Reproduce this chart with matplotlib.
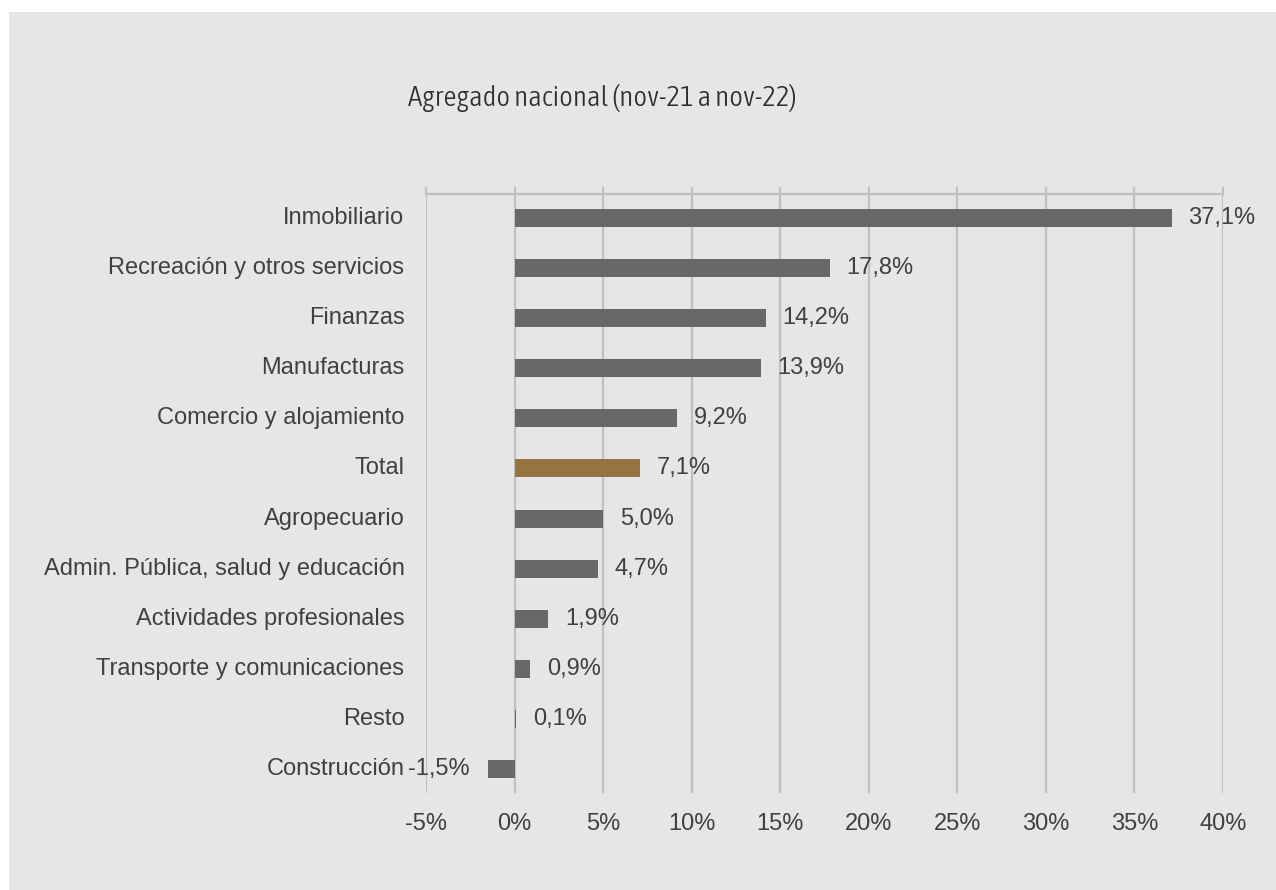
import os
import matplotlib
matplotlib.use("Agg")
import matplotlib.pyplot as plt
from matplotlib.patches import Rectangle
from matplotlib import font_manager
from matplotlib.font_manager import FontProperties

categories = ["Inmobiliario", "Recreación y otros servicios", "Finanzas", "Manufacturas",
              "Comercio y alojamiento", "Total", "Agropecuario",
              "Admin. Pública, salud y educación", "Actividades profesionales",
              "Transporte y comunicaciones", "Resto", "Construcción"]
values = [37.1, 17.8, 14.2, 13.9, 9.2, 7.1, 5.0, 4.7, 1.9, 0.9, 0.1, -1.5]
xticks = [-5, 0, 5, 10, 15, 20, 25, 30, 35, 40]
title = "Agregado nacional (nov-21 a nov-22)"

plt.rcParams["font.family"] = ["Liberation Sans", "DejaVu Sans"]


def pick_narrow_font():
    best, best_score = None, -1
    for f in font_manager.fontManager.ttflist:
        b = os.path.basename(f.fname).lower()
        if not ("narrow" in b or "condensed" in b):
            continue
        if "italic" in b or "oblique" in b or "bold" in b or "semi" in b or "extra" in b \
                or "black" in b or "thin" in b or "medium" in b:
            score = 0
        elif "light" in b:
            score = 3
        else:
            score = 2
        if "dejavu" in b:
            score -= 1
        if score > best_score:
            best, best_score = f.fname, score
    if best is None:
        return FontProperties(family="DejaVu Sans", stretch="condensed")
    return FontProperties(fname=best)


BG = "#E6E6E8"
GRID = "#C0C0C0"
BAR = "#666869"
HIGHLIGHT = "#96743F"
TXT = "#404040"
FS = 17

W, H = 1276, 890
fig = plt.figure(figsize=(W / 100, H / 100), dpi=100, facecolor="white")
fig.patches.append(Rectangle((9 / W, 0), 1 - 9 / W, 1 - 12 / H, transform=fig.transFigure,
                             facecolor=BG, edgecolor="none", zorder=-10))

ax = fig.add_axes([426 / W, (H - 793) / H, (1223 - 426) / W, (793 - 194) / H])
ax.set_facecolor("none")
ax.set_zorder(2)

ypos = list(range(len(categories)))
colors = [HIGHLIGHT if c == "Total" else BAR for c in categories]
ax.barh(ypos, values, height=0.36, color=colors, zorder=3)

ax.set_xlim(-5, 40)
ax.set_ylim(len(categories) - 1 + 0.48, -0.48)
ax.set_xticks(xticks)
ax.set_xticklabels([f"{t}%" for t in xticks], fontsize=FS, color=TXT)
ax.xaxis.grid(True, color=GRID, linewidth=1.6, zorder=1)
ax.tick_params(axis="x", bottom=False, top=True, labelbottom=True, labeltop=False,
               direction="out", length=5, width=1.6, color=GRID, pad=9.5)
ax.set_yticks([])
for s in ["left", "right", "bottom"]:
    ax.spines[s].set_visible(False)
ax.spines["top"].set_color(GRID)
ax.spines["top"].set_linewidth(1.6)

for y, c in zip(ypos, categories):
    ax.annotate(c, xy=(0, y), xycoords=("axes fraction", "data"), xytext=(-15.5, 0),
                textcoords="offset points", ha="right", va="center", fontsize=FS, color=TXT)

for y, v in zip(ypos, values):
    lab = f"{v:.1f}".replace(".", ",") + "%"
    if v >= 0:
        ax.annotate(lab, xy=(v, y), xytext=(12, 0), textcoords="offset points",
                    ha="left", va="center", fontsize=FS, color=TXT)
    else:
        ax.annotate(lab, xy=(v, y), xytext=(-13, 0), textcoords="offset points",
                    ha="right", va="center", fontsize=FS, color=TXT)

# title in a narrow font, sized so its width matches the reference (~386 px)
fp = pick_narrow_font()
fp.set_size(20)
t = fig.text(602 / W, 1 - 98 / H, title, ha="center", va="center",
             color="#2E2E2E", fontproperties=fp)
fig.canvas.draw()
wpx = t.get_window_extent(fig.canvas.get_renderer()).width
if wpx > 0:
    fp.set_size(min(22, 20 * 386 / wpx))
    t.set_fontproperties(fp)

fig.savefig("out.png", dpi=100, facecolor="white")
